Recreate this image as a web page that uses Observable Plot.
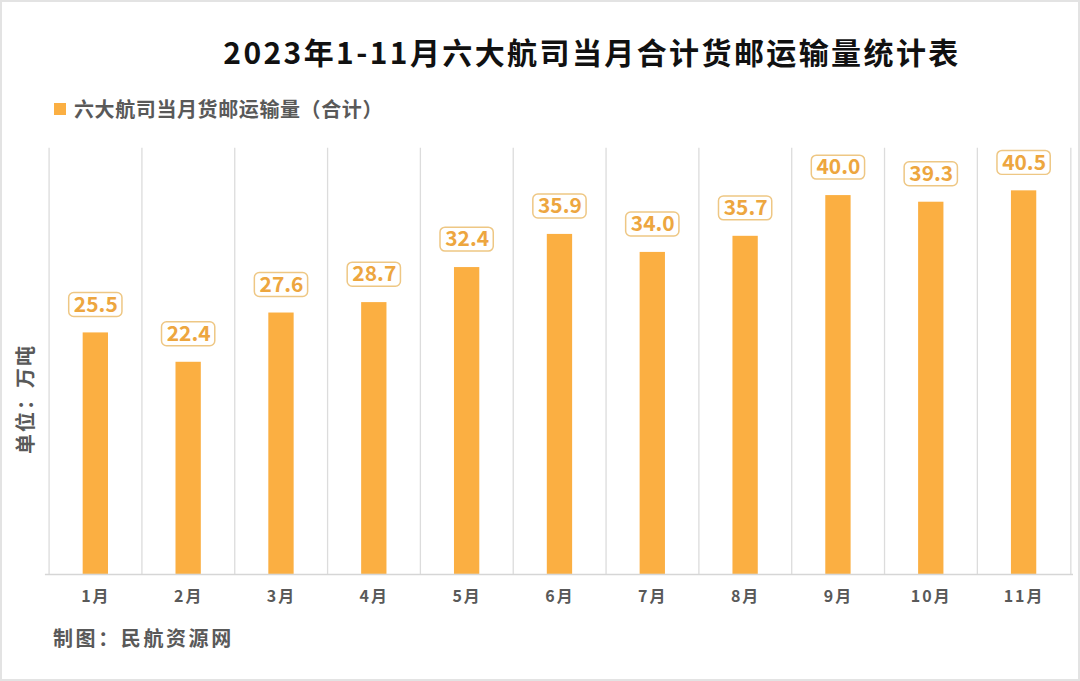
<!DOCTYPE html>
<html>
<head>
<meta charset="utf-8">
<script src="https://cdn.jsdelivr.net/npm/d3@7"></script>
<script src="https://cdn.jsdelivr.net/npm/@observablehq/plot@0.6"></script>
<style>
  html, body { margin: 0; padding: 0; background: #fff; }
  #wrap { position: relative; width: 1080px; height: 681px; overflow: hidden; box-sizing: border-box; border: 2px solid #e3e3e3; font-family: "Noto Sans CJK SC", "Noto Sans", sans-serif; }
  .abs { position: absolute; white-space: nowrap; }
  #title { left: 0; width: 1180px; top: 27px; text-align: center; font-size: 30px; font-weight: 700; color: #111; letter-spacing: 2.4px; }
  #legend { left: 52px; top: 92px; font-size: 20px; font-weight: 700; color: #595959; letter-spacing: 0.6px; }
  #legend span.sw { display: inline-block; width: 12px; height: 12px; background: #FBAF42; margin-right: 8px; vertical-align: 2px; }
  #ylab { left: 22px; top: 397px; transform: translate(-50%, -50%) rotate(-90deg); font-size: 20px; font-weight: 700; color: #595959; letter-spacing: 2px; }
  #caption { left: 51px; top: 621px; font-size: 20px; font-weight: 700; color: #595959; letter-spacing: 2.6px; }
  #chart { position: absolute; left: -2px; top: -2px; }
</style>
</head>
<body>
<div id="wrap">
  <div id="chart"></div>
  <div id="title" class="abs">2023年1-11月六大航司当月合计货邮运输量统计表</div>
  <div id="legend" class="abs"><span class="sw"></span>六大航司当月货邮运输量（合计）</div>
  <div id="ylab" class="abs">单位：万吨</div>
  <div id="caption" class="abs">制图：民航资源网</div>
</div>
<script>
const months = ["1月","2月","3月","4月","5月","6月","7月","8月","9月","10月","11月"];
const values = [25.5, 22.4, 27.6, 28.7, 32.4, 35.9, 34.0, 35.7, 40.0, 39.3, 40.5];
const seriesName = "六大航司当月货邮运输量（合计）";

const data = months.map((m, i) => ({month: m, value: values[i]}));

const W = 1080, H = 681;
const mt = 148, mb = 106, ml = 45, mr = 5;
const yMax = 45;
const plotH = H - mt - mb;
const unitPerPx = yMax / plotH;
const bw = (W - ml - mr) / months.length;
const barW = 26;
const boxW = 54;

const boxGap = 16, boxH = 24;

const chart = Plot.plot({
  width: W,
  height: H,
  marginTop: mt,
  marginBottom: mb,
  marginLeft: ml,
  marginRight: mr,
  style: { background: "transparent", fontFamily: "'Noto Sans CJK SC', sans-serif" },
  x: { domain: months, padding: 0, label: null, tickSize: 0, tickPadding: 16 },
  y: { domain: [0, yMax], axis: null },
  marks: [
    Plot.ruleX(months, { x: d => d, dx: -bw / 2, y1: 0, y2: yMax, stroke: "#dcdcdc", strokeWidth: 1.3 }),
    Plot.ruleX([months[months.length - 1]], { x: d => d, dx: bw / 2, y1: 0, y2: yMax, stroke: "#dcdcdc", strokeWidth: 1.3 }),
    Plot.barY(data, { x: "month", y: "value", fill: "#FBAF42", insetLeft: (bw - barW) / 2, insetRight: (bw - barW) / 2 }),
    Plot.ruleY([0], { stroke: "#d6d6d6", strokeWidth: 1.5 }),
    Plot.rect(data, {
      x: "month",
      y1: d => d.value + boxGap * unitPerPx,
      y2: d => d.value + (boxGap + boxH) * unitPerPx,
      fill: "#fff",
      stroke: "#EEC784",
      strokeWidth: 1.5,
      rx: 5,
      insetLeft: (bw - boxW) / 2,
      insetRight: (bw - boxW) / 2
    }),
    Plot.text(data, {
      x: "month",
      y: "value",
      text: d => d.value.toFixed(1),
      dy: -(boxGap + boxH / 2),
      fill: "#EDA63F",
      fontSize: 21,
      fontWeight: 700,
      lineAnchor: "middle"
    })
  ]
});

document.getElementById("chart").appendChild(chart);
d3.select(chart).selectAll("g[aria-label='x-axis tick label']")
  .attr("font-size", 16).attr("font-weight", 700).attr("fill", "#595959").style("letter-spacing", "2px");
</script>
</body>
</html>
